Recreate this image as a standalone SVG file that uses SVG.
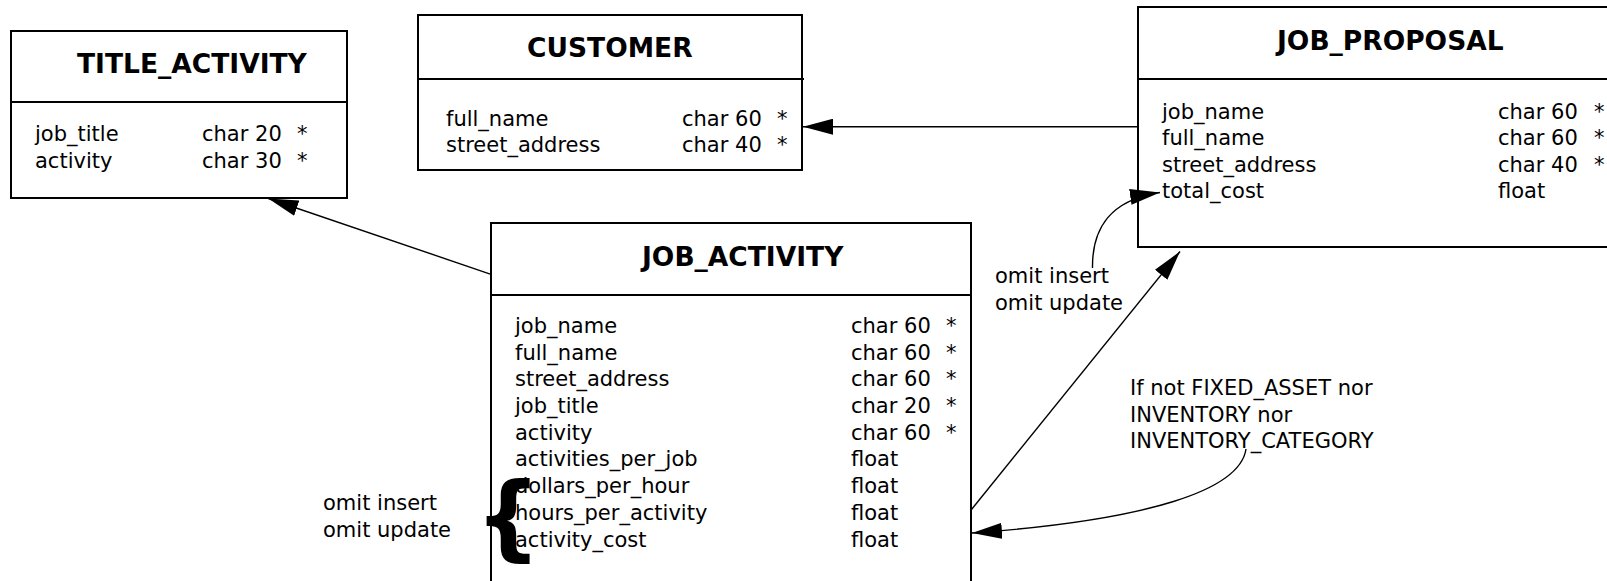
<svg xmlns="http://www.w3.org/2000/svg" width="1607" height="581" viewBox="0 0 1607 581">
<style>
.box{fill:#fff;stroke:#000;stroke-width:2}
.div{stroke:#000;stroke-width:2}
.t{font-family:"DejaVu Sans",sans-serif;font-size:21px;fill:#000}
.h{font-family:"DejaVu Sans",sans-serif;font-size:26.5px;font-weight:bold;fill:#000}
.c{fill:none;stroke:#000;stroke-width:1.4}
.brace{font-family:"DejaVu Sans",sans-serif;font-size:93px;font-weight:bold;fill:#000}
</style>
<defs>
<marker id="arr" viewBox="0 0 30 16" refX="30" refY="8" markerWidth="30" markerHeight="16" markerUnits="userSpaceOnUse" orient="auto">
<path d="M0,0 L30,8 L0,16 z" fill="#000"/>
</marker>
</defs>
<rect width="1607" height="581" fill="#fff"/>

<g id="title_activity">
<rect class="box" x="11" y="31" width="336" height="167"/>
<line class="div" x1="11" y1="102" x2="347" y2="102"/>
<text class="h" x="77" y="73">TITLE_ACTIVITY</text>
<text class="t" x="35" y="141">job_title</text>
<text class="t" x="202" y="141">char 20</text>
<text class="t" x="297" y="141">*</text>
<text class="t" x="35" y="167.5">activity</text>
<text class="t" x="202" y="167.5">char 30</text>
<text class="t" x="297" y="167.5">*</text>
</g>

<g id="customer">
<rect class="box" x="418" y="15" width="384" height="155"/>
<line class="div" x1="418" y1="79" x2="804" y2="79"/>
<text class="h" x="527" y="57">CUSTOMER</text>
<text class="t" x="446" y="126">full_name</text>
<text class="t" x="682" y="126">char 60</text>
<text class="t" x="777" y="126">*</text>
<text class="t" x="446" y="152">street_address</text>
<text class="t" x="682" y="152">char 40</text>
<text class="t" x="777" y="152">*</text>
</g>

<g id="job_proposal">
<rect class="box" x="1138" y="7" width="520" height="240"/>
<line class="div" x1="1138" y1="79" x2="1607" y2="79"/>
<text class="h" x="1277" y="50">JOB_PROPOSAL</text>
<text class="t" x="1162" y="118.5">job_name</text>
<text class="t" x="1498" y="118.5">char 60</text>
<text class="t" x="1594" y="118.5">*</text>
<text class="t" x="1162" y="145">full_name</text>
<text class="t" x="1498" y="145">char 60</text>
<text class="t" x="1594" y="145">*</text>
<text class="t" x="1162" y="172">street_address</text>
<text class="t" x="1498" y="172">char 40</text>
<text class="t" x="1594" y="172">*</text>
<text class="t" x="1162" y="198">total_cost</text>
<text class="t" x="1498" y="198">float</text>
</g>

<g id="job_activity">
<rect class="box" x="491" y="223" width="480" height="400"/>
<line class="div" x1="491" y1="295" x2="971" y2="295"/>
<text class="h" x="642" y="266">JOB_ACTIVITY</text>
<text class="t" x="515" y="333">job_name</text>
<text class="t" x="851" y="333">char 60</text>
<text class="t" x="946" y="333">*</text>
<text class="t" x="515" y="359.5">full_name</text>
<text class="t" x="851" y="359.5">char 60</text>
<text class="t" x="946" y="359.5">*</text>
<text class="t" x="515" y="386">street_address</text>
<text class="t" x="851" y="386">char 60</text>
<text class="t" x="946" y="386">*</text>
<text class="t" x="515" y="412.75">job_title</text>
<text class="t" x="851" y="412.75">char 20</text>
<text class="t" x="946" y="412.75">*</text>
<text class="t" x="515" y="439.5">activity</text>
<text class="t" x="851" y="439.5">char 60</text>
<text class="t" x="946" y="439.5">*</text>
<text class="t" x="515" y="466.25">activities_per_job</text>
<text class="t" x="851" y="466.25">float</text>
<text class="t" x="515" y="493">dollars_per_hour</text>
<text class="t" x="851" y="493">float</text>
<text class="t" x="515" y="519.75">hours_per_activity</text>
<text class="t" x="851" y="519.75">float</text>
<text class="t" x="515" y="546.5">activity_cost</text>
<text class="t" x="851" y="546.5">float</text>
</g>

<g id="omit_left">
<text class="brace" x="475" y="549">{</text>
<text class="t" x="323" y="510">omit insert</text>
<text class="t" x="323" y="536.7">omit update</text>
</g>

<g id="labels">
<text class="t" x="995" y="283.3">omit insert</text>
<text class="t" x="995" y="310">omit update</text>
<text class="t" x="1130" y="395">If not FIXED_ASSET nor</text>
<text class="t" x="1130" y="421.7">INVENTORY nor</text>
<text class="t" x="1130" y="448.3">INVENTORY_CATEGORY</text>
</g>

<g id="connectors">
<line class="c" x1="1138" y1="126.7" x2="803" y2="126.7" marker-end="url(#arr)"/>
<line class="c" x1="491" y1="274.3" x2="268.3" y2="198.5" marker-end="url(#arr)"/>
<line class="c" x1="971.5" y1="509.5" x2="1180" y2="251.5" marker-end="url(#arr)"/>
<path class="c" d="M1092.5,268 C1092,228 1110,200 1160,192.5" marker-end="url(#arr)"/>
<path class="c" d="M1246,449 C1240,490 1150,520 972,533" marker-end="url(#arr)"/>
</g>
</svg>
